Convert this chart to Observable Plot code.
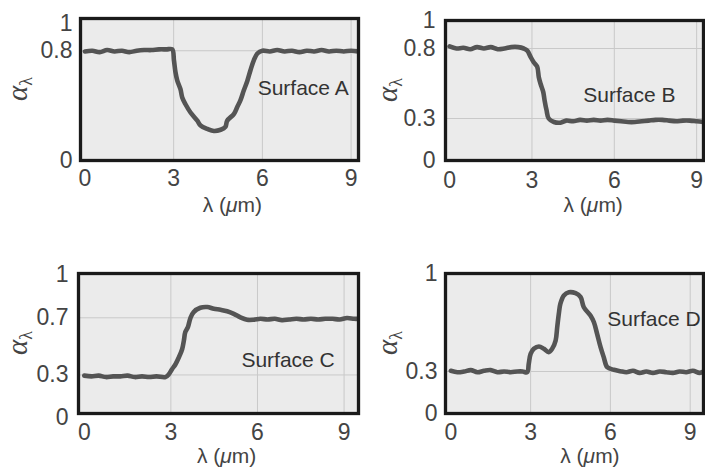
<!DOCTYPE html>
<html>
<head>
<meta charset="utf-8">
<script src="https://cdn.jsdelivr.net/npm/d3@7"></script>
<script src="https://cdn.jsdelivr.net/npm/@observablehq/plot@0.6"></script>
<style>
  body { margin: 0; background: #fff; }
  #wrap { position: relative; width: 705px; height: 473px; overflow: hidden; background: #fff; }
</style>
</head>
<body>
<div id="wrap"></div>
<script>
// ---- data ----
const xTicks = [0, 3, 6, 9];
const xGrid = [3, 6, 9];
const surfaceLabels = ["Surface A", "Surface B", "Surface C", "Surface D"];

const yTicksA = [0, 0.8, 1];
const yGridA = [0.8];
const yTicksB = [0, 0.3, 0.8, 1];
const yGridB = [0.3, 0.8];
const yTicksC = [0, 0.3, 0.7, 1];
const yGridC = [0.3, 0.7];
const yTicksD = [0, 0.3, 1];
const yGridD = [0.3];

const lambdaA = [0, 0.25, 0.5, 0.75, 1.0, 1.25, 1.5, 1.75, 2.0, 2.25, 2.5, 2.75, 2.95, 3.01, 3.06, 3.12, 3.23, 3.29, 3.40, 3.57, 3.80, 3.91, 4.14, 4.36, 4.59, 4.75, 4.81, 5.04, 5.15, 5.26, 5.37, 5.49, 5.60, 5.71, 5.83, 6.0, 6.25, 6.5, 6.75, 7.0, 7.25, 7.5, 7.75, 8.0, 8.25, 8.5, 8.75, 9.0, 9.25];
const alphaA  = [0.795, 0.80, 0.79, 0.805, 0.795, 0.80, 0.79, 0.80, 0.805, 0.805, 0.81, 0.81, 0.81, 0.73, 0.645, 0.584, 0.52, 0.46, 0.41, 0.35, 0.29, 0.255, 0.23, 0.215, 0.224, 0.245, 0.29, 0.34, 0.39, 0.44, 0.51, 0.58, 0.66, 0.73, 0.78, 0.80, 0.795, 0.805, 0.795, 0.80, 0.79, 0.80, 0.795, 0.805, 0.795, 0.80, 0.795, 0.80, 0.795];

const lambdaB = [0, 0.25, 0.5, 0.75, 1.0, 1.25, 1.5, 1.75, 2.0, 2.25, 2.5, 2.70, 2.83, 2.95, 3.07, 3.19, 3.25, 3.31, 3.41, 3.46, 3.53, 3.61, 3.80, 4.04, 4.25, 4.5, 4.75, 5.0, 5.25, 5.5, 5.75, 6.0, 6.25, 6.5, 6.75, 7.0, 7.25, 7.5, 7.75, 8.0, 8.25, 8.5, 8.75, 9.0, 9.25];
const alphaB  = [0.815, 0.80, 0.805, 0.795, 0.81, 0.80, 0.81, 0.795, 0.80, 0.81, 0.81, 0.80, 0.785, 0.74, 0.70, 0.67, 0.595, 0.55, 0.49, 0.43, 0.36, 0.30, 0.275, 0.27, 0.285, 0.28, 0.29, 0.285, 0.29, 0.285, 0.29, 0.285, 0.28, 0.275, 0.275, 0.28, 0.285, 0.29, 0.29, 0.285, 0.28, 0.285, 0.285, 0.28, 0.275];

const lambdaC = [0, 0.25, 0.5, 0.75, 1.0, 1.25, 1.5, 1.75, 2.0, 2.25, 2.5, 2.81, 2.93, 3.04, 3.16, 3.27, 3.39, 3.45, 3.50, 3.59, 3.68, 3.79, 4.02, 4.26, 4.49, 4.72, 4.95, 5.18, 5.41, 5.64, 5.87, 6.1, 6.35, 6.6, 6.85, 7.1, 7.35, 7.6, 7.85, 8.1, 8.35, 8.6, 8.85, 9.1, 9.35, 9.5];
const alphaC  = [0.295, 0.29, 0.295, 0.285, 0.29, 0.29, 0.295, 0.285, 0.29, 0.285, 0.29, 0.285, 0.305, 0.34, 0.375, 0.42, 0.48, 0.54, 0.60, 0.635, 0.70, 0.74, 0.77, 0.775, 0.763, 0.756, 0.746, 0.728, 0.703, 0.686, 0.686, 0.693, 0.688, 0.693, 0.683, 0.688, 0.693, 0.688, 0.693, 0.688, 0.693, 0.693, 0.688, 0.698, 0.693, 0.693];

const lambdaD = [0, 0.25, 0.5, 0.75, 1.0, 1.25, 1.5, 1.75, 2.0, 2.25, 2.5, 2.7, 2.87, 2.93, 3.0, 3.12, 3.31, 3.50, 3.68, 3.81, 3.94, 4.0, 4.06, 4.12, 4.25, 4.44, 4.69, 4.88, 5.0, 5.25, 5.38, 5.50, 5.63, 5.75, 5.88, 6.13, 6.38, 6.6, 6.85, 7.1, 7.35, 7.6, 7.85, 8.1, 8.35, 8.6, 8.85, 9.1, 9.35, 9.5];
const alphaD  = [0.305, 0.295, 0.30, 0.31, 0.295, 0.305, 0.31, 0.295, 0.30, 0.295, 0.30, 0.30, 0.295, 0.355, 0.426, 0.462, 0.479, 0.462, 0.438, 0.462, 0.521, 0.616, 0.712, 0.784, 0.843, 0.866, 0.859, 0.831, 0.759, 0.70, 0.652, 0.569, 0.474, 0.402, 0.331, 0.312, 0.302, 0.295, 0.305, 0.29, 0.30, 0.29, 0.30, 0.295, 0.29, 0.30, 0.295, 0.305, 0.29, 0.30];

// ---- layout ----
const panels = [
  {name: surfaceLabels[0], lambda: lambdaA, alpha: alphaA, yTicks: yTicksA, yGrid: yGridA,
   left: 0, top: 0, width: 360, height: 230, mL: 80, mT: 18, mB: 70,
   xDom: [-0.15, 9.25], yDom: [0, 1.035], lab: [7.38, 0.525], xPad: 9, yPad: 8, yLabX: 27, xLabAt: 5.0, xLabDy: 52},
  {name: surfaceLabels[1], lambda: lambdaB, alpha: alphaB, yTicks: yTicksB, yGrid: yGridB,
   left: 360, top: 0, width: 345, height: 230, mL: 85, mT: 20, mB: 70,
   xDom: [-0.15, 9.25], yDom: [0, 1], lab: [6.55, 0.464], xPad: 11, yPad: 10, yLabX: 37, xLabAt: 5.25, xLabDy: 52},
  {name: surfaceLabels[2], lambda: lambdaC, alpha: alphaC, yTicks: yTicksC, yGrid: yGridC,
   left: 0, top: 255, width: 360, height: 218, mL: 78, mT: 18, mB: 60,
   xDom: [-0.2, 9.5], yDom: [0.03, 1.01], lab: [7.06, 0.405], xPad: 10, yPad: 10, yLabX: 27, xLabAt: 4.95, xLabDy: 50},
  {name: surfaceLabels[3], lambda: lambdaD, alpha: alphaD, yTicks: yTicksD, yGrid: yGridD,
   left: 360, top: 255, width: 345, height: 218, mL: 85, mT: 18, mB: 60,
   xDom: [-0.2, 9.5], yDom: [0, 1], lab: [7.64, 0.671], xPad: 10, yPad: 8, yLabX: 37, xLabAt: 5.25, xLabDy: 50}
];

const wrap = document.getElementById("wrap");

for (const p of panels) {
  const rows = p.lambda.map((x, i) => ({x, y: p.alpha[i]}));
  const svg = Plot.plot({
    width: p.width,
    height: p.height,
    marginLeft: p.mL,
    marginRight: 2,
    marginTop: p.mT,
    marginBottom: p.mB,
    style: {
      fontFamily: "'Liberation Sans', Arial, sans-serif",
      fontSize: "23px",
      color: "#444",
      background: "transparent",
      overflow: "visible"
    },
    x: {domain: p.xDom, ticks: xTicks, tickSize: 0, tickPadding: p.xPad, label: null, tickFormat: d => String(d)},
    y: {domain: p.yDom, ticks: p.yTicks, tickSize: 0, tickPadding: p.yPad, label: null, tickFormat: d => String(d)},
    marks: [
      Plot.frame({fill: "#ebebeb", stroke: null}),
      Plot.ruleX(xGrid, {stroke: "#c9c9c9", strokeWidth: 1}),
      Plot.ruleY(p.yGrid, {stroke: "#c9c9c9", strokeWidth: 1}),
      Plot.line(rows, {x: "x", y: "y", stroke: "#545454", strokeWidth: 4.6, curve: "catmull-rom", strokeLinejoin: "round", strokeLinecap: "round", clip: true}),
      Plot.text([p.name], {x: p.lab[0], y: p.lab[1], text: d => d, fontSize: 21, fill: "#333", textAnchor: "middle"}),
      Plot.frame({stroke: "#1a1a1a", strokeWidth: 3.3})
    ]
  });
  svg.style.position = "absolute";
  svg.style.left = p.left + "px";
  svg.style.top = p.top + "px";
  svg.style.maxWidth = "none";

  const sx = svg.scale("x");
  const bottom = p.height - p.mB;
  const mid = (p.mT + bottom) / 2;
  const s = d3.select(svg);

  // x-axis label: λ (μm)
  const xl = s.append("text")
    .attr("x", sx.apply(p.xLabAt))
    .attr("y", bottom + p.xLabDy)
    .attr("text-anchor", "middle")
    .attr("font-family", "'Liberation Sans', Arial, sans-serif")
    .attr("font-size", 21)
    .attr("fill", "#444");
  xl.append("tspan").text("λ (");
  xl.append("tspan").attr("font-style", "italic").text("μ");
  xl.append("tspan").text("m)");

  // y-axis label: α_λ
  const yl = s.append("text")
    .attr("transform", `translate(${p.yLabX},${mid}) rotate(-90)`)
    .attr("text-anchor", "middle")
    .attr("font-family", "'Liberation Serif', 'DejaVu Serif', serif")
    .attr("font-size", 29)
    .attr("fill", "#444");
  yl.append("tspan").attr("font-style", "italic").text("α");
  yl.append("tspan").attr("font-size", 18).attr("dy", 5).text("λ");

  wrap.appendChild(svg);
}
</script>
</body>
</html>
